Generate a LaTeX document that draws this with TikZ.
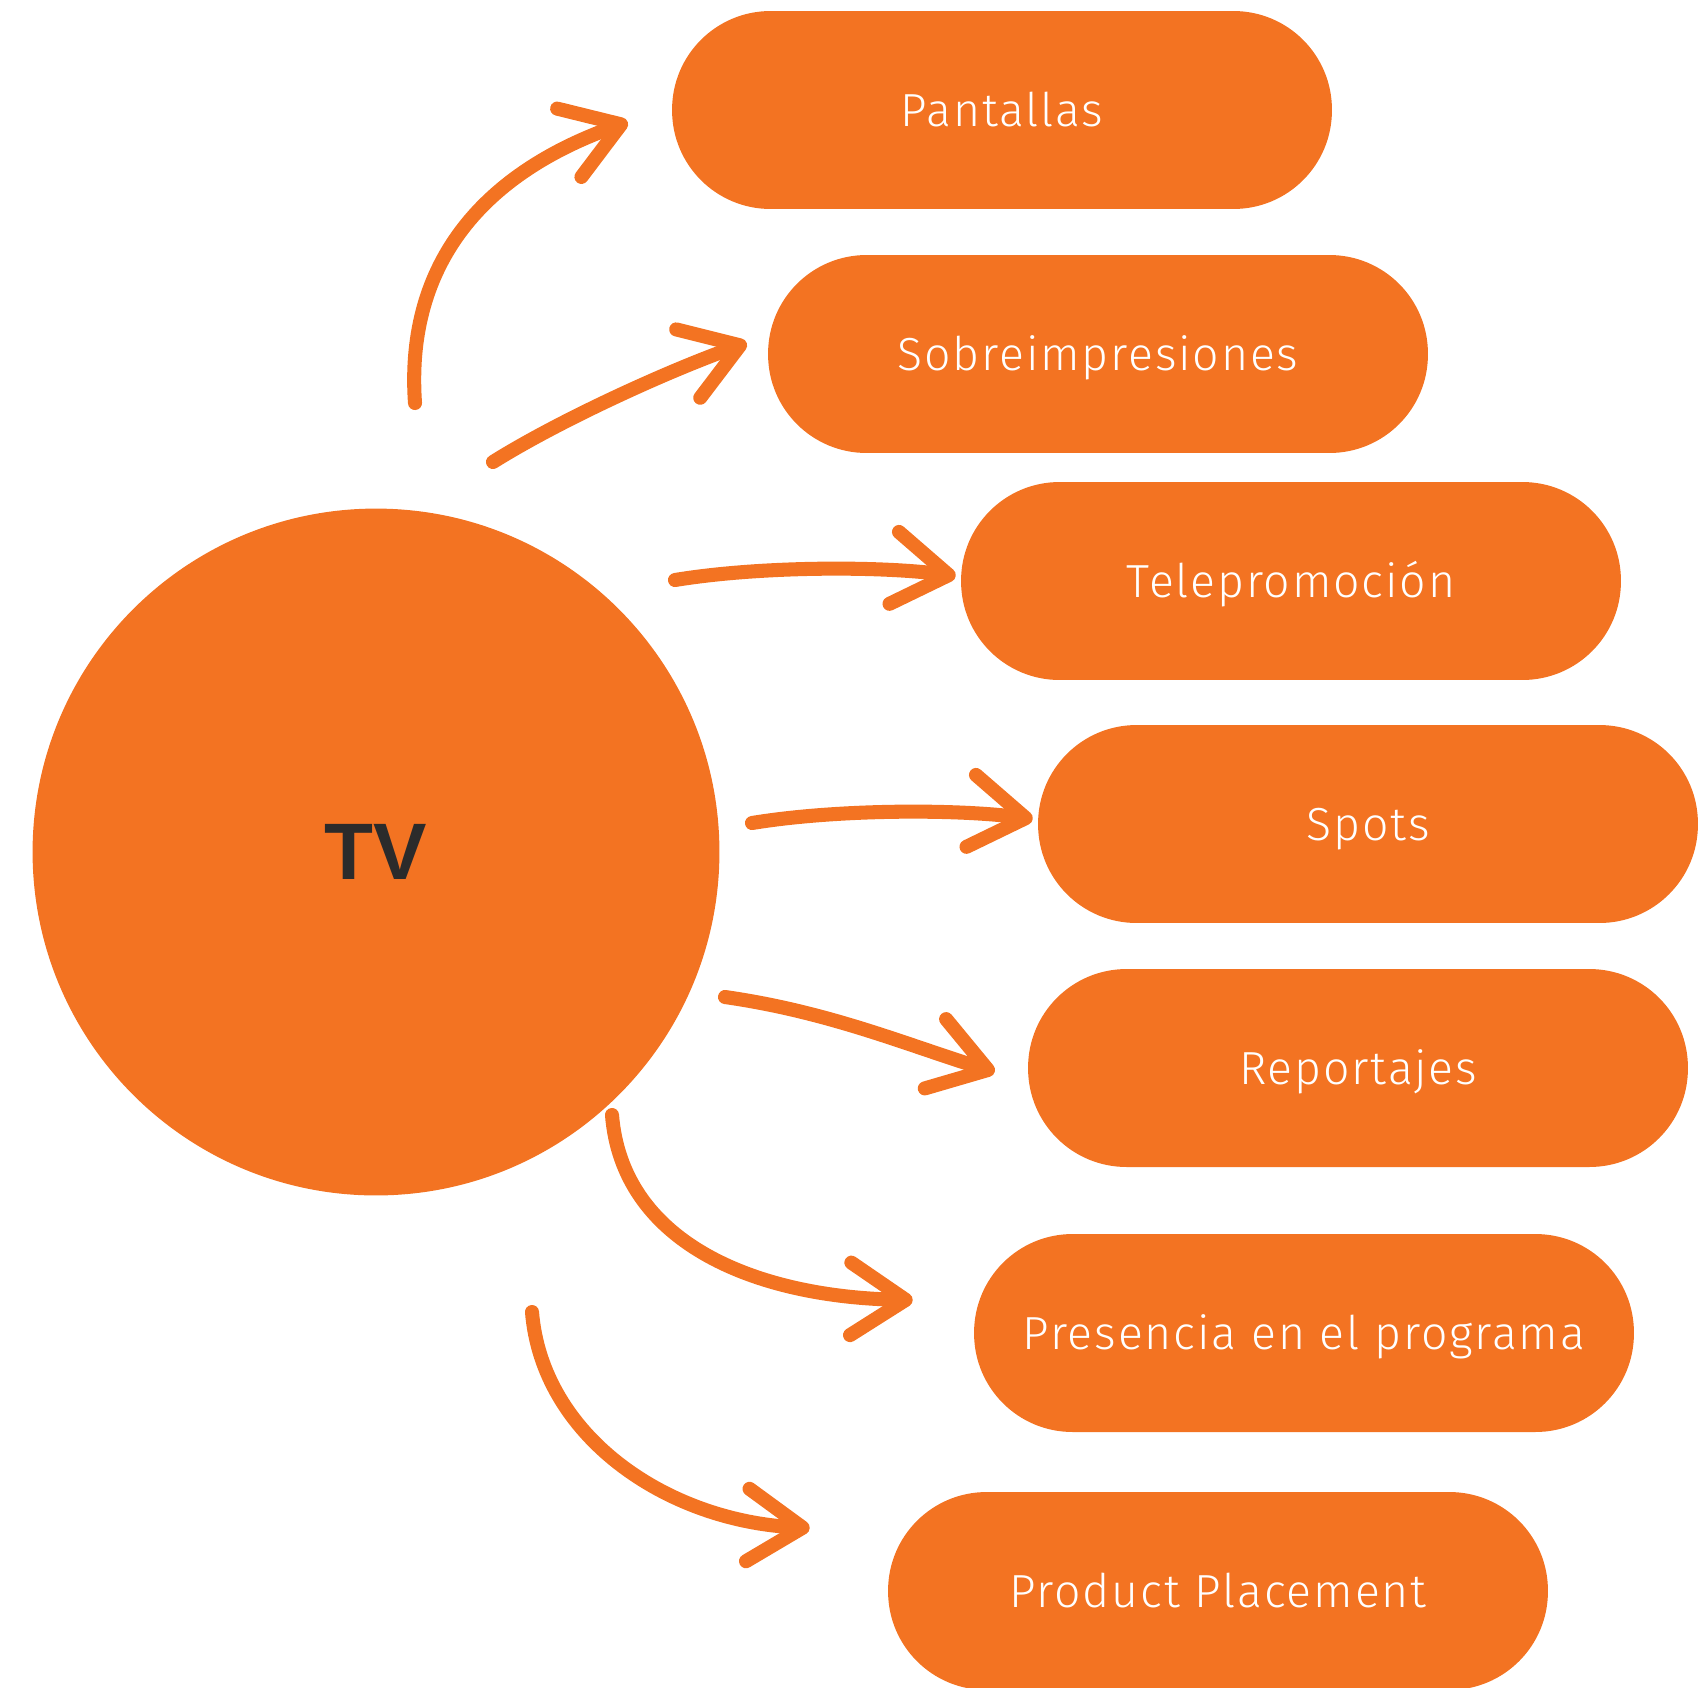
\documentclass[tikz,border=0pt]{standalone}
\usepackage{fontspec}
\usetikzlibrary{arrows.meta,calc}
\newfontfamily\pillfont{Fira Sans Light}[LetterSpace=4]
\newfontfamily\tvfont{Liberation Sans}
\definecolor{tvorange}{RGB}{243,115,34}
\definecolor{tvtext}{RGB}{43,43,43}

\begin{document}
\begin{tikzpicture}[x=0.02cm,y=-0.02cm,
	pill/.style={fill=tvorange, rounded corners=1.97cm, minimum width=13.2cm,
		minimum height=3.96cm, inner sep=0pt, text=white,
		font=\pillfont\fontsize{26.4}{30}\selectfont, text height=0.64cm, text depth=0pt},
	brush/.style={draw=tvorange, line width=8pt, line cap=round,
		-{Straight Barb[length=1.1cm,width=1.45cm,line cap=round,line join=round]}}]
\useasboundingbox (0,0) rectangle (1699,1687);
%========================================
% LEFT: the medium
%========================================
\node[circle, fill=tvorange, minimum size=13.74cm, inner sep=0pt, text=tvtext,
	font=\tvfont\bfseries\fontsize{45.6}{50}\selectfont] (tv) at (376,852) {TV};
%========================================
% RIGHT: formats
%========================================
\node[pill] (pantallas) at (1002,110) {Pantallas};
\node[pill] (sobre) at (1098,354) {Sobreimpresiones};
\node[pill] (telepro) at (1291,581) {Telepromoción};
\node[pill] (spots) at (1368,824) {Spots};
\node[pill] (reportajes) at (1358,1068) {Reportajes};
\node[pill] (presencia) at (1304,1333) {Presencia en el programa};
\node[pill] (placement) at (1218,1591) {Product Placement};
%========================================
% ARROWS: tv -> formats
%========================================
% free ends next to the circle
\coordinate (s1) at (415,403);
\coordinate (s2) at (493,462);
\coordinate (s3) at (675,580);
\coordinate (s4) at (752,823);
\coordinate (s5) at (725,997);
\coordinate (s6) at (612,1115);
\coordinate (s7) at (532,1312);
% tips in front of the pills
\coordinate (t1) at ($(pantallas.west)+(-44,12)$);
\coordinate (t2) at ($(sobre.west)+(-21,-11)$);
\coordinate (t3) at ($(telepro.west)+(-5,-5)$);
\coordinate (t4) at ($(spots.west)+(-5,-5)$);
\coordinate (t5) at ($(reportajes.west)+(-33,4)$);
\coordinate (t6) at ($(presencia.west)+(-61,-33)$);
\coordinate (t7) at ($(placement.west)+(-78,-63)$);

\draw[brush] (s1) .. controls (405,260) and (487,172) .. (t1);
\draw[brush] (s2) .. controls (560,420) and (670,370) .. (t2);
\draw[brush] (s3) .. controls (760,566) and (880,566) .. (t3);
\draw[brush] (s4) .. controls (837,809) and (957,809) .. (t4);
\draw[brush] (s5) .. controls (830,1012) and (907,1045) .. (t5);
\draw[brush] (s6) .. controls (622,1240) and (750,1297) .. (t6);
\draw[brush] (s7) .. controls (542,1435) and (665,1521) .. (t7);

\end{tikzpicture}
\end{document}
